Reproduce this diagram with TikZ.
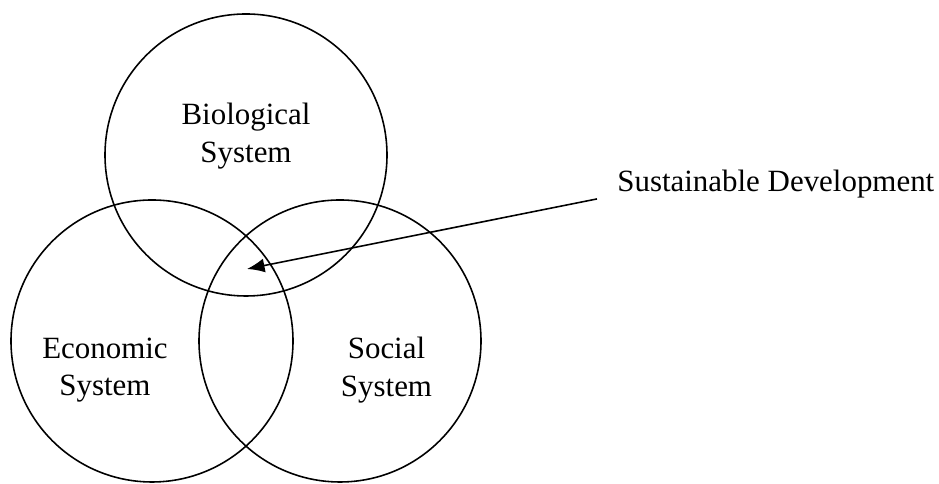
\documentclass[tikz,border=0pt]{standalone}
\usepackage{fontspec}
\setmainfont{Liberation Serif}
\usetikzlibrary{arrows.meta, positioning}

\begin{document}
\begin{tikzpicture}[
    ring/.style={line width=0.9pt},
    label/.style={align=center, inner sep=0pt, font=\fontsize{17.6}{21.3}\selectfont},
    pointer/.style={line width=0.9pt, -{Latex[length=10pt, width=8pt]}}
  ]

  \useasboundingbox (0, 0) rectangle (18.78, 9.68);

  \draw [ring] (4.92, 6.58) circle [radius=2.82];
  \draw [ring] (3.04, 2.86) circle [radius=2.82];
  \draw [ring] (6.80, 2.86) circle [radius=2.82];

  \node [label] (bio) at (4.92, 6.96) {Biological\\System};
  \node [label] (eco) at (2.10, 2.28) {Economic\\System};
  \node [label] (soc) at (7.73, 2.28) {Social\\System};

  \node [label, anchor=base west] (sd) at (12.34, 5.84) {Sustainable Development};

  \coordinate (core) at (4.94, 4.30);

  \draw [pointer] ([xshift=-0.4cm]sd.south west) -- (core);

\end{tikzpicture}
\end{document}
